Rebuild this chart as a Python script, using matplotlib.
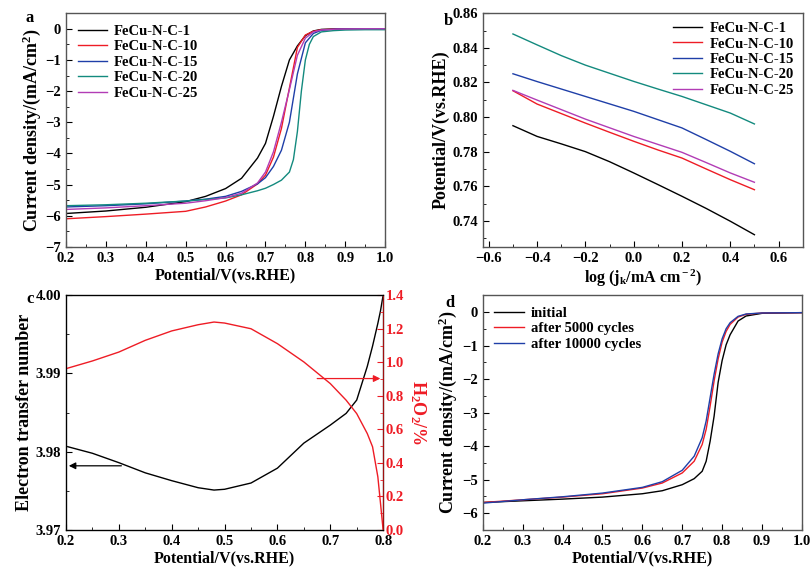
import matplotlib
matplotlib.use("Agg")
import matplotlib.pyplot as plt
from matplotlib.ticker import MultipleLocator, FormatStrFormatter

plt.rcParams['font.family'] = ['Liberation Serif', 'DejaVu Serif']
plt.rcParams['font.weight'] = 'bold'
plt.rcParams['axes.labelweight'] = 'bold'
plt.rcParams['mathtext.fontset'] = 'custom'
plt.rcParams['mathtext.rm'] = 'Liberation Serif:bold'
plt.rcParams['mathtext.it'] = 'Liberation Serif:bold:italic'
plt.rcParams['mathtext.bf'] = 'Liberation Serif:bold'

# ---- panel a: LSV curves ----
labels_a = ['FeCu-N-C-1', 'FeCu-N-C-10', 'FeCu-N-C-15', 'FeCu-N-C-20', 'FeCu-N-C-25']
colors_a = ['black', '#ee1c25', '#1f3fa8', '#138a7e', '#b23cb5']
v_a = [0.2, 0.3, 0.4, 0.5, 0.55, 0.6, 0.64, 0.68, 0.7, 0.72, 0.74, 0.76, 0.78, 0.8, 0.82, 0.84, 0.88, 0.95, 1.0]
j_1 = [-5.93, -5.85, -5.73, -5.55, -5.38, -5.13, -4.8, -4.15, -3.68, -2.81, -1.85, -1.0, -0.55, -0.22, -0.07, -0.02, 0, 0, 0]
j_10 = [-6.1, -6.03, -5.95, -5.86, -5.72, -5.53, -5.33, -4.98, -4.7, -4.12, -3.2, -1.9, -0.6, -0.2, -0.08, -0.03, -0.01, 0, 0]
j_15 = [-5.72, -5.68, -5.62, -5.53, -5.47, -5.38, -5.22, -4.98, -4.78, -4.42, -3.9, -3.0, -1.45, -0.45, -0.15, -0.05, -0.01, 0, 0]
j_25 = [-5.8, -5.75, -5.68, -5.6, -5.52, -5.42, -5.28, -4.95, -4.6, -3.95, -3.0, -1.95, -0.85, -0.3, -0.1, -0.04, -0.01, 0, 0]
v_20 = [0.2, 0.3, 0.4, 0.5, 0.55, 0.6, 0.64, 0.68, 0.7, 0.72, 0.74, 0.76, 0.77, 0.78, 0.79, 0.8, 0.81, 0.82, 0.84, 0.87, 0.9, 0.95, 1.0]
j_20 = [-5.68, -5.65, -5.6, -5.53, -5.48, -5.43, -5.33, -5.2, -5.12, -5.0, -4.86, -4.6, -4.2, -3.3, -2.0, -1.0, -0.5, -0.25, -0.1, -0.06, -0.04, -0.03, -0.03]

# ---- panel b: Tafel ----
logj = [-0.5, -0.4, -0.3, -0.2, -0.1, 0.0, 0.1, 0.2, 0.3, 0.4, 0.5]
e_1 = [0.795, 0.7888, 0.7845, 0.7800, 0.7742, 0.7677, 0.761, 0.7542, 0.7472, 0.7398, 0.732]
e_10 = [0.8152, 0.8075, 0.802, 0.7965, 0.7912, 0.786, 0.781, 0.7763, 0.770, 0.7638, 0.758]
e_15 = [0.825, 0.8205, 0.8162, 0.8119, 0.8076, 0.8033, 0.7985, 0.7937, 0.787, 0.7802, 0.773]
e_20 = [0.848, 0.8417, 0.8355, 0.830, 0.8253, 0.8206, 0.8162, 0.8119, 0.8071, 0.8023, 0.796]
e_25 = [0.8154, 0.8098, 0.8043, 0.7988, 0.7938, 0.7888, 0.7842, 0.7796, 0.7737, 0.7677, 0.7623]

# ---- panel c: RRDE ----
v_c = [0.2, 0.25, 0.3, 0.35, 0.4, 0.45, 0.48, 0.5, 0.55, 0.6, 0.65, 0.7, 0.73, 0.75, 0.77, 0.78, 0.79, 0.795, 0.8]
n_e = [3.9807, 3.9798, 3.9786, 3.9773, 3.9763, 3.9754, 3.9751, 3.9752, 3.976, 3.9779, 3.9811, 3.9834, 3.9849, 3.9866, 3.9909, 3.9935, 3.9964, 3.998, 4.0]
h2o2 = [0.962, 1.008, 1.061, 1.131, 1.187, 1.224, 1.24, 1.234, 1.2, 1.111, 1.002, 0.873, 0.774, 0.694, 0.575, 0.496, 0.317, 0.16, 0.0]

# ---- panel d: stability ----
labels_d = ['initial', 'after 5000 cycles', 'after 10000 cycles']
v_d = [0.2, 0.3, 0.4, 0.5, 0.6, 0.65, 0.7, 0.73, 0.75, 0.76, 0.77, 0.78, 0.79, 0.8, 0.81, 0.82, 0.84, 0.86, 0.9, 1.0]
j_init = [-5.68, -5.63, -5.58, -5.52, -5.42, -5.33, -5.15, -4.97, -4.75, -4.45, -3.85, -3.1, -2.1, -1.45, -0.98, -0.68, -0.27, -0.12, -0.04, -0.02]
j_5000 = [-5.68, -5.6, -5.52, -5.42, -5.25, -5.1, -4.8, -4.45, -3.95, -3.5, -2.8, -2.05, -1.4, -0.9, -0.58, -0.37, -0.15, -0.07, -0.03, -0.02]
j_10000 = [-5.7, -5.6, -5.51, -5.4, -5.23, -5.06, -4.72, -4.3, -3.75, -3.25, -2.55, -1.85, -1.25, -0.8, -0.5, -0.32, -0.13, -0.06, -0.03, -0.02]

fig = plt.figure(figsize=(8.1, 5.74), dpi=100)
axa = fig.add_axes([0.0815, 0.570, 0.394, 0.407])
axb = fig.add_axes([0.596, 0.570, 0.395, 0.407])
axc = fig.add_axes([0.0815, 0.0767, 0.3915, 0.409])
axd = fig.add_axes([0.596, 0.0767, 0.394, 0.409])

XL = 11.5   # x label size
YL = 13     # y label size
TK = 10.5   # tick label size
LG = dict(frameon=False, fontsize=10.5, handlelength=2.0, handletextpad=0.5, labelspacing=0.15)

def style(ax):
    for s in ax.spines.values():
        s.set_color('#555555')
        s.set_linewidth(1.0)
    ax.tick_params(which='both', direction='in', top=False, right=False, labelsize=TK)
    ax.tick_params(which='major', length=4)
    ax.tick_params(which='minor', length=2)

# a
for v, j, lab, c in zip([v_a, v_a, v_a, v_20, v_a], [j_1, j_10, j_15, j_20, j_25], labels_a, colors_a):
    axa.plot(v, j, color=c, lw=1.0, label=lab)
axa.set_xlim(0.2, 1.0)
axa.set_ylim(-7, 0.5)
axa.xaxis.set_major_locator(MultipleLocator(0.1))
axa.xaxis.set_minor_locator(MultipleLocator(0.05))
axa.xaxis.set_major_formatter(FormatStrFormatter('%.1f'))
axa.yaxis.set_major_locator(MultipleLocator(1))
axa.yaxis.set_minor_locator(MultipleLocator(0.5))
axa.set_xlabel('Potential/V(vs.RHE)', fontsize=XL, labelpad=2)
axa.set_ylabel('Current density/(mA/cm$^2$)', fontsize=YL, labelpad=2)
axa.legend(loc='upper left', borderaxespad=0.4, **LG)
style(axa)
fig.text(0.032, 0.962, 'a', fontsize=12, fontweight='bold')

# b
for e, lab, c in zip([e_1, e_10, e_15, e_20, e_25], labels_a, colors_a):
    axb.plot(logj, e, color=c, lw=1.0, label=lab)
axb.set_xlim(-0.625, 0.7)
axb.set_ylim(0.725, 0.86)
axb.xaxis.set_major_locator(MultipleLocator(0.2))
axb.xaxis.set_minor_locator(MultipleLocator(0.1))
axb.yaxis.set_major_locator(MultipleLocator(0.02))
axb.yaxis.set_minor_locator(MultipleLocator(0.01))
axb.yaxis.set_major_formatter(FormatStrFormatter('%.2f'))
axb.set_xlabel(r'log (j$_{\rm k}$/mA cm$^{\rm -2}$)', fontsize=XL, labelpad=2)
axb.set_ylabel('Potential/V(vs.RHE)', fontsize=YL, labelpad=2)
axb.legend(loc='upper right', borderaxespad=0.2, **LG)
style(axb)
fig.text(0.548, 0.957, 'b', fontsize=12, fontweight='bold')

# c
axc.plot(v_c, n_e, color='black', lw=1.0)
axc.set_xlim(0.2, 0.8)
axc.set_ylim(3.97, 4.00)
axc.xaxis.set_major_locator(MultipleLocator(0.1))
axc.xaxis.set_minor_locator(MultipleLocator(0.05))
axc.xaxis.set_major_formatter(FormatStrFormatter('%.1f'))
axc.yaxis.set_major_locator(MultipleLocator(0.01))
axc.yaxis.set_minor_locator(MultipleLocator(0.005))
axc.yaxis.set_major_formatter(FormatStrFormatter('%.2f'))
axc.set_xlabel('Potential/V(vs.RHE)', fontsize=XL, labelpad=2)
axc.set_ylabel('Electron transfer number', fontsize=YL, labelpad=2)
style(axc)
axc.annotate('', xy=(0.2, 3.9782), xytext=(0.31, 3.9782),
             arrowprops=dict(arrowstyle='-|>', color='black', lw=0.9, mutation_scale=10))
axc2 = axc.twinx()
axc2.plot(v_c, h2o2, color='#ee1c25', lw=1.0)
axc2.set_ylim(0, 1.4)
axc2.yaxis.set_major_locator(MultipleLocator(0.2))
axc2.yaxis.set_minor_locator(MultipleLocator(0.1))
axc2.yaxis.set_major_formatter(FormatStrFormatter('%.1f'))
axc2.tick_params(which='both', direction='in', labelsize=TK, colors='#ee1c25', pad=2)
axc2.tick_params(which='major', length=4)
axc2.tick_params(which='minor', length=2)
axc2.spines['right'].set_color('#a01010')
axc2.set_ylabel('H$_2$O$_2$/%', color='#ee1c25', fontsize=YL, rotation=270, labelpad=17)
axc2.annotate('', xy=(0.8, 0.903), xytext=(0.67, 0.903),
              arrowprops=dict(arrowstyle='-|>', color='#ee1c25', lw=0.9, mutation_scale=10))
fig.text(0.033, 0.472, 'c', fontsize=12, fontweight='bold')

# d
for j, lab, c in zip([j_init, j_5000, j_10000], labels_d, ['black', '#ee1c25', '#1f3fa8']):
    axd.plot(v_d, j, color=c, lw=1.0, label=lab)
axd.set_xlim(0.2, 1.0)
axd.set_ylim(-6.5, 0.5)
axd.xaxis.set_major_locator(MultipleLocator(0.1))
axd.xaxis.set_minor_locator(MultipleLocator(0.05))
axd.xaxis.set_major_formatter(FormatStrFormatter('%.1f'))
axd.yaxis.set_major_locator(MultipleLocator(1))
axd.yaxis.set_minor_locator(MultipleLocator(0.5))
axd.set_xlabel('Potential/V(vs.RHE)', fontsize=XL, labelpad=2)
axd.set_ylabel('Current density/(mA/cm$^2$)', fontsize=YL, labelpad=2)
axd.legend(loc='upper left', borderaxespad=0.4, **LG)
style(axd)
fig.text(0.550, 0.465, 'd', fontsize=12, fontweight='bold')

fig.savefig('out.png', dpi=100)
